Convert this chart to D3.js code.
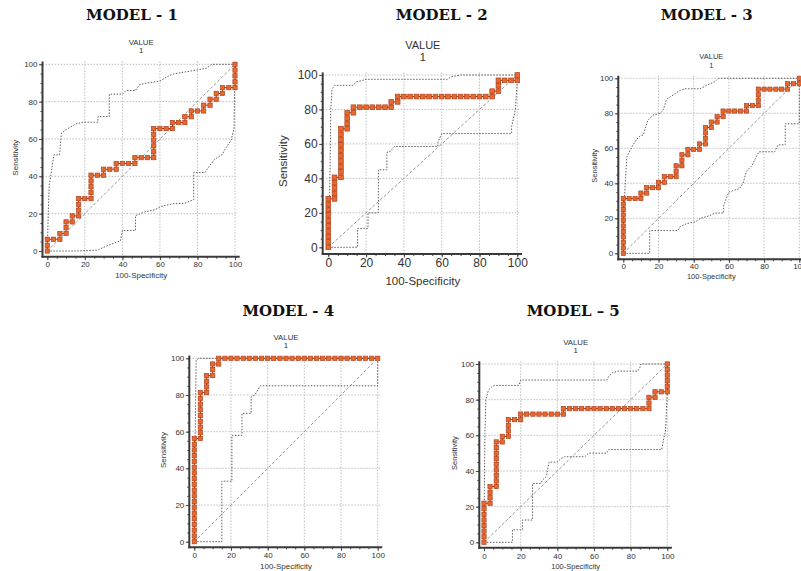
<!DOCTYPE html>
<html>
<head>
<meta charset="utf-8">
<script src="https://cdn.jsdelivr.net/npm/d3@7"></script>
<style>
  body { margin: 0; background: #fff; }
  svg { display: block; font-family: "Liberation Sans", Arial, sans-serif; }
  .title { font-family: "DejaVu Serif", serif; font-weight: bold; font-size: 15px; fill: #111; }
  .axis path.domain { display: none; }
  .axis line { stroke: #444; }
  .axis text { fill: #333; }
</style>
</head>
<body>
<svg width="801" height="571"></svg>
<script>
// ROC points (100-Specificity, Sensitivity)
const rocModel1 = [
  [0,0],[0,3.1],[0,6.3],[3.3,6.3],[6.7,6.3],[6.7,9.4],[10,9.4],[10,12.5],[10,15.6],[13.3,15.6],
  [13.3,18.8],[16.7,18.8],[16.7,21.9],[16.7,25],[16.7,28.1],[20,28.1],[23.3,28.1],[23.3,31.3],[23.3,34.4],[23.3,37.5],
  [23.3,40.6],[26.7,40.6],[30,40.6],[30,43.8],[33.3,43.8],[36.7,43.8],[36.7,46.9],[40,46.9],[43.3,46.9],[46.7,46.9],
  [46.7,50],[50,50],[53.3,50],[56.7,50],[56.7,53.1],[56.7,56.3],[56.7,59.4],[56.7,62.5],[56.7,65.6],[60,65.6],
  [63.3,65.6],[66.7,65.6],[66.7,68.8],[70,68.8],[73.3,68.8],[73.3,71.9],[76.7,71.9],[76.7,75],[80,75],[83.3,75],
  [83.3,78.1],[86.7,78.1],[86.7,81.3],[90,81.3],[90,84.4],[93.3,84.4],[93.3,87.5],[96.7,87.5],[100,87.5],[100,90.6],
  [100,93.8],[100,96.9],[100,100]
];
const rocModel2 = [
  [0,0],[0,3.1],[0,6.3],[0,9.4],[0,12.5],[0,15.6],[0,18.8],[0,21.9],[0,25],[0,28.1],
  [3.3,28.1],[3.3,31.3],[3.3,34.4],[3.3,37.5],[3.3,40.6],[6.7,40.6],[6.7,43.8],[6.7,46.9],[6.7,50],[6.7,53.1],
  [6.7,56.3],[6.7,59.4],[6.7,62.5],[6.7,65.6],[6.7,68.8],[10,68.8],[10,71.9],[10,75],[10,78.1],[13.3,78.1],
  [13.3,81.3],[16.7,81.3],[20,81.3],[23.3,81.3],[26.7,81.3],[30,81.3],[33.3,81.3],[33.3,84.4],[36.7,84.4],[36.7,87.5],
  [40,87.5],[43.3,87.5],[46.7,87.5],[50,87.5],[53.3,87.5],[56.7,87.5],[60,87.5],[63.3,87.5],[66.7,87.5],[70,87.5],
  [73.3,87.5],[76.7,87.5],[80,87.5],[83.3,87.5],[86.7,87.5],[86.7,90.6],[90,90.6],[90,93.8],[90,96.9],[93.3,96.9],
  [96.7,96.9],[100,96.9],[100,100]
];
const rocModel3 = [
  [0,0],[0,3.1],[0,6.3],[0,9.4],[0,12.5],[0,15.6],[0,18.8],[0,21.9],[0,25],[0,28.1],
  [0,31.3],[3.3,31.3],[6.7,31.3],[10,31.3],[10,34.4],[13.3,34.4],[13.3,37.5],[16.7,37.5],[20,37.5],[20,40.6],
  [23.3,40.6],[23.3,43.8],[26.7,43.8],[30,43.8],[30,46.9],[30,50],[33.3,50],[33.3,53.1],[33.3,56.3],[36.7,56.3],
  [36.7,59.4],[40,59.4],[43.3,59.4],[43.3,62.5],[46.7,62.5],[46.7,65.6],[46.7,68.8],[46.7,71.9],[50,71.9],[50,75],
  [53.3,75],[53.3,78.1],[56.7,78.1],[56.7,81.3],[60,81.3],[63.3,81.3],[66.7,81.3],[70,81.3],[70,84.4],[73.3,84.4],
  [76.7,84.4],[76.7,87.5],[76.7,90.6],[76.7,93.8],[80,93.8],[83.3,93.8],[86.7,93.8],[90,93.8],[93.3,93.8],[93.3,96.9],
  [96.7,96.9],[100,96.9],[100,100]
];
const rocModel4 = [
  [0,0],[0,3.1],[0,6.3],[0,9.4],[0,12.5],[0,15.6],[0,18.8],[0,21.9],[0,25],[0,28.1],
  [0,31.3],[0,34.4],[0,37.5],[0,40.6],[0,43.8],[0,46.9],[0,50],[0,53.1],[0,56.3],[3.3,56.3],
  [3.3,59.4],[3.3,62.5],[3.3,65.6],[3.3,68.8],[3.3,71.9],[3.3,75],[3.3,78.1],[3.3,81.3],[6.7,81.3],[6.7,84.4],
  [6.7,87.5],[6.7,90.6],[10,90.6],[10,93.8],[10,96.9],[13.3,96.9],[13.3,100],[16.7,100],[20,100],[23.3,100],
  [26.7,100],[30,100],[33.3,100],[36.7,100],[40,100],[43.3,100],[46.7,100],[50,100],[53.3,100],[56.7,100],
  [60,100],[63.3,100],[66.7,100],[70,100],[73.3,100],[76.7,100],[80,100],[83.3,100],[86.7,100],[90,100],
  [93.3,100],[96.7,100],[100,100]
];
const rocModel5 = [
  [0,0],[0,3.1],[0,6.3],[0,9.4],[0,12.5],[0,15.6],[0,18.8],[0,21.9],[3.3,21.9],[3.3,25],
  [3.3,28.1],[3.3,31.3],[6.7,31.3],[6.7,34.4],[6.7,37.5],[6.7,40.6],[6.7,43.8],[6.7,46.9],[6.7,50],[6.7,53.1],
  [6.7,56.3],[10,56.3],[10,59.4],[13.3,59.4],[13.3,62.5],[13.3,65.6],[13.3,68.8],[16.7,68.8],[20,68.8],[20,71.9],
  [23.3,71.9],[26.7,71.9],[30,71.9],[33.3,71.9],[36.7,71.9],[40,71.9],[43.3,71.9],[43.3,75],[46.7,75],[50,75],
  [53.3,75],[56.7,75],[60,75],[63.3,75],[66.7,75],[70,75],[73.3,75],[76.7,75],[80,75],[83.3,75],
  [86.7,75],[90,75],[90,78.1],[90,81.3],[93.3,81.3],[93.3,84.4],[96.7,84.4],[100,84.4],[100,87.5],[100,90.6],
  [100,93.8],[100,96.9],[100,100]
];

// confidence bands (dotted), upper and lower
const upperBand1 = [[0,0],[0.5,20],[1,35],[3,48],[3.5,51.5],[6.5,51.5],[7.5,63],[10,65],[15,68],[19,69],[27,69],[27,72],[33,72],[33,84],[40,84],[42,86],[47,86],[49,89],[53,90],[60,91],[65,94],[68,95],[74,96],[80,97],[85,98],[87.5,100],[100,100]];
const lowerBand1 = [[0,0],[15,0],[27,0.5],[30,2],[35,4],[39,5.5],[40,11],[47,11],[47,19],[52,21],[57,22],[61,24],[68,25.5],[73,25.5],[78,27.5],[78,42],[84,42],[86,45],[89,49],[93,51.5],[95,55],[98,59.5],[99.5,66],[100,100]];
const upperBand2 = [[0,0],[0.5,20],[1,50],[1.3,80],[2,92],[3.5,94],[13,94],[15,96],[20,97.5],[63,97.5],[65,99],[70,100],[100,100]];
const lowerBand2 = [[0,0],[15.5,0],[15.5,11],[21,11],[21,20],[26.5,20],[26.5,45],[31,45],[31,55],[33,56],[35,58.5],[58,58.5],[58,61],[60,66],[97,66],[97,70],[99,80],[100,97],[100,100]];
const upperBand3 = [[0,0],[0.3,23],[1,38],[2,55],[5,61],[7.5,65],[9.5,67],[11.4,67.6],[12.3,71],[14,76],[17,79],[21,80],[22.7,82],[24.6,88],[28.4,90.5],[32,93],[35,94],[43.6,94],[47.3,96],[52,98],[54,100],[100,100]];
const lowerBand3 = [[0,0],[15,0],[15,13],[31,13],[32,15],[36,17],[41,18],[44,20],[49,21.5],[52,23],[57,23],[57,27],[58,30],[60,35],[66,37],[68,40],[70,47],[73,50],[75,54],[77,58],[86,58],[88,62],[92,62],[92,74],[100,74],[100,100]];
const upperBand4 = [[0,0],[0.5,58],[1,99],[2.5,100],[100,100]];
const lowerBand4 = [[0,0],[15,0],[15,33],[20.5,33],[20.5,58],[26,58],[26,70],[31,70],[31,79],[33,80],[36,85],[100,85],[100,100]];
const upperBand5 = [[0,0],[0.2,29],[0.5,61],[1,80],[2.4,85.4],[4,87],[6,88],[19,88],[20,91],[67,91],[68,93],[70,95],[73,96],[84,96],[85,98],[85.5,100],[100,100]];
const lowerBand5 = [[0,0],[15.5,0],[15.5,7],[21,7],[21,12.5],[26.5,12.5],[26.5,33],[31,33],[32,35],[34,37],[35.5,45],[40,45],[42,47],[44,48],[55,48],[57,50],[67,50],[68,52],[97,52],[98,58],[99,62],[100,84],[100,100]];

const modelTitles = ["MODEL - 1", "MODEL - 2", "MODEL - 3", "MODEL - 4", "MODEL \u2013 5"];
const majorTicks = [0, 20, 40, 60, 80, 100];
const minorTicks = d3.range(0, 101, 5);
const gridValues = [20, 40, 60, 80, 100];

// where each panel sits on the page (pixels)
const panels = [
  { title: modelTitles[0], roc: rocModel1, upper: upperBand1, lower: lowerBand1,
    x0: 47.3, x100: 235, y0: 251, y100: 64.3, axisX: 42.5, axisY: 256.7,
    titleX: 132, titleY: 15, valueY: 42, tickFont: 8, labelFont: 8, valueFont: 7.8, tickPadX: 1, xLabelY: 275, yLabelX: 15, marker: 4.3 },
  { title: modelTitles[1], roc: rocModel2, upper: upperBand2, lower: lowerBand2,
    x0: 328.3, x100: 517.3, y0: 247.3, y100: 75, axisX: 322.7, axisY: 254,
    titleX: 441.7, titleY: 15, valueY: 45, tickFont: 12, labelFont: 11.5, valueFont: 11, tickPadX: 1, xLabelY: 281, yLabelX: 283.3, marker: 4.7 },
  { title: modelTitles[2], roc: rocModel3, upper: upperBand3, lower: lowerBand3,
    x0: 623.3, x100: 799.3, y0: 253.3, y100: 78.3, axisX: 618.3, axisY: 259.3,
    titleX: 706.7, titleY: 15, valueY: 56.7, tickFont: 8, labelFont: 7.5, valueFont: 7.5, tickPadX: 0.5, xLabelY: 276, yLabelX: 594, marker: 4.2 },
  { title: modelTitles[3], roc: rocModel4, upper: upperBand4, lower: lowerBand4,
    x0: 194.3, x100: 377.7, y0: 541.7, y100: 358.3, axisX: 189.3, axisY: 547.3,
    titleX: 288.3, titleY: 310.7, valueY: 336.7, tickFont: 8, labelFont: 8, valueFont: 7.8, tickPadX: 2, xLabelY: 566, yLabelX: 163.3, marker: 4.3 },
  { title: modelTitles[4], roc: rocModel5, upper: upperBand5, lower: lowerBand5,
    x0: 484, x100: 667.3, y0: 542.3, y100: 364, axisX: 479.3, axisY: 547.7,
    titleX: 573.3, titleY: 310.7, valueY: 341.7, tickFont: 8, labelFont: 7.5, valueFont: 7.8, tickPadX: 2, xLabelY: 566, yLabelX: 454, marker: 4.3 }
];

const svg = d3.select("svg");

panels.forEach(drawPanel);

function drawPanel(p) {
  const x = d3.scaleLinear().domain([0, 100]).range([p.x0, p.x100]);
  const y = d3.scaleLinear().domain([0, 100]).range([p.y0, p.y100]);
  const g = svg.append("g");

  // titre du modèle
  g.append("text")
      .attr("class", "title")
      .attr("x", p.titleX)
      .attr("y", p.titleY)
      .attr("dy", "0.36em")
      .attr("text-anchor", "middle")
      .text(p.title);

  // "VALUE" / "1"
  const cx = (p.x0 + p.x100) / 2;
  g.append("text")
      .attr("x", cx).attr("y", p.valueY).attr("dy", "0.36em")
      .attr("text-anchor", "middle")
      .style("font-size", p.valueFont + "px").style("fill", "#333")
      .text("VALUE");
  g.append("text")
      .attr("x", cx).attr("y", p.valueY + p.valueFont * 1.1).attr("dy", "0.36em")
      .attr("text-anchor", "middle")
      .style("font-size", p.valueFont + "px").style("fill", "#333")
      .text("1");

  // grille pointillée
  const top = y(101.5), right = x(101.5);
  g.selectAll(".hgrid").data(gridValues).enter().append("line")
      .attr("x1", p.axisX).attr("x2", right)
      .attr("y1", d => y(d)).attr("y2", d => y(d))
      .attr("stroke", "#b8b8b8").attr("stroke-width", 0.9)
      .attr("stroke-dasharray", "1.5,1.5");
  g.selectAll(".vgrid").data(gridValues).enter().append("line")
      .attr("y1", top).attr("y2", p.axisY)
      .attr("x1", d => x(d)).attr("x2", d => x(d))
      .attr("stroke", "#b8b8b8").attr("stroke-width", 0.9)
      .attr("stroke-dasharray", "1.5,1.5");

  // diagonale
  g.append("line")
      .attr("x1", x(0)).attr("y1", y(0))
      .attr("x2", x(100)).attr("y2", y(100))
      .attr("stroke", "#8a8a8a").attr("stroke-width", 0.9)
      .attr("stroke-dasharray", "3,2");

  // bandes de confiance
  const line = d3.line().x(d => x(d[0])).y(d => y(d[1]));
  [p.upper, p.lower].forEach(band => {
    g.append("path")
        .attr("d", line(band))
        .attr("fill", "none")
        .attr("stroke", "#606060")
        .attr("stroke-width", 1)
        .attr("stroke-dasharray", "1.5,1.5");
  });

  // axes
  const yMinor = d3.axisLeft(y).tickValues(minorTicks).tickSize(2).tickFormat("");
  const yMajor = d3.axisLeft(y).tickValues(majorTicks).tickSize(3.5).tickPadding(1.5);
  const xMinor = d3.axisBottom(x).tickValues(minorTicks).tickSize(2).tickFormat("");
  const xMajor = d3.axisBottom(x).tickValues(majorTicks).tickSize(3.5).tickPadding(p.tickPadX);

  [yMinor, yMajor].forEach(ax => {
    g.append("g").attr("class", "axis")
        .attr("transform", `translate(${p.axisX},0)`)
        .call(ax)
        .call(s => s.selectAll("text").style("font-size", p.tickFont + "px").attr("font-family", null));
  });
  [xMinor, xMajor].forEach(ax => {
    g.append("g").attr("class", "axis")
        .attr("transform", `translate(0,${p.axisY})`)
        .call(ax)
        .call(s => s.selectAll("text").style("font-size", p.tickFont + "px").attr("font-family", null));
  });
  g.selectAll(".axis").attr("font-size", null);

  g.append("line")
      .attr("x1", p.axisX).attr("x2", p.axisX)
      .attr("y1", top).attr("y2", p.axisY + 1)
      .attr("stroke", "#3a3a3a").attr("stroke-width", 2);
  g.append("line")
      .attr("x1", p.axisX - 1).attr("x2", x(102.5))
      .attr("y1", p.axisY).attr("y2", p.axisY)
      .attr("stroke", "#3a3a3a").attr("stroke-width", 2);

  // titres des axes
  g.append("text")
      .attr("x", cx).attr("y", p.xLabelY).attr("dy", "0.36em")
      .attr("text-anchor", "middle")
      .style("font-size", p.labelFont + "px").style("fill", "#333")
      .text("100-Specificity");
  g.append("text")
      .attr("transform", `translate(${p.yLabelX},${(p.y0 + p.y100) / 2}) rotate(-90)`)
      .attr("dy", "0.36em")
      .attr("text-anchor", "middle")
      .style("font-size", p.labelFont + "px").style("fill", "#333")
      .text("Sensitivity");

  // courbe ROC
  g.append("path")
      .attr("d", line(p.roc))
      .attr("fill", "none")
      .attr("stroke", "#8c3a22")
      .attr("stroke-width", 1);

  g.selectAll(".pt").data(p.roc).enter().append("rect")
      .attr("class", "pt")
      .attr("x", d => x(d[0]) - p.marker / 2)
      .attr("y", d => y(d[1]) - p.marker / 2)
      .attr("width", p.marker)
      .attr("height", p.marker)
      .attr("fill", "#e8692d")
      .attr("stroke", "#b0421f")
      .attr("stroke-width", 0.7);
}
</script>
</body>
</html>
